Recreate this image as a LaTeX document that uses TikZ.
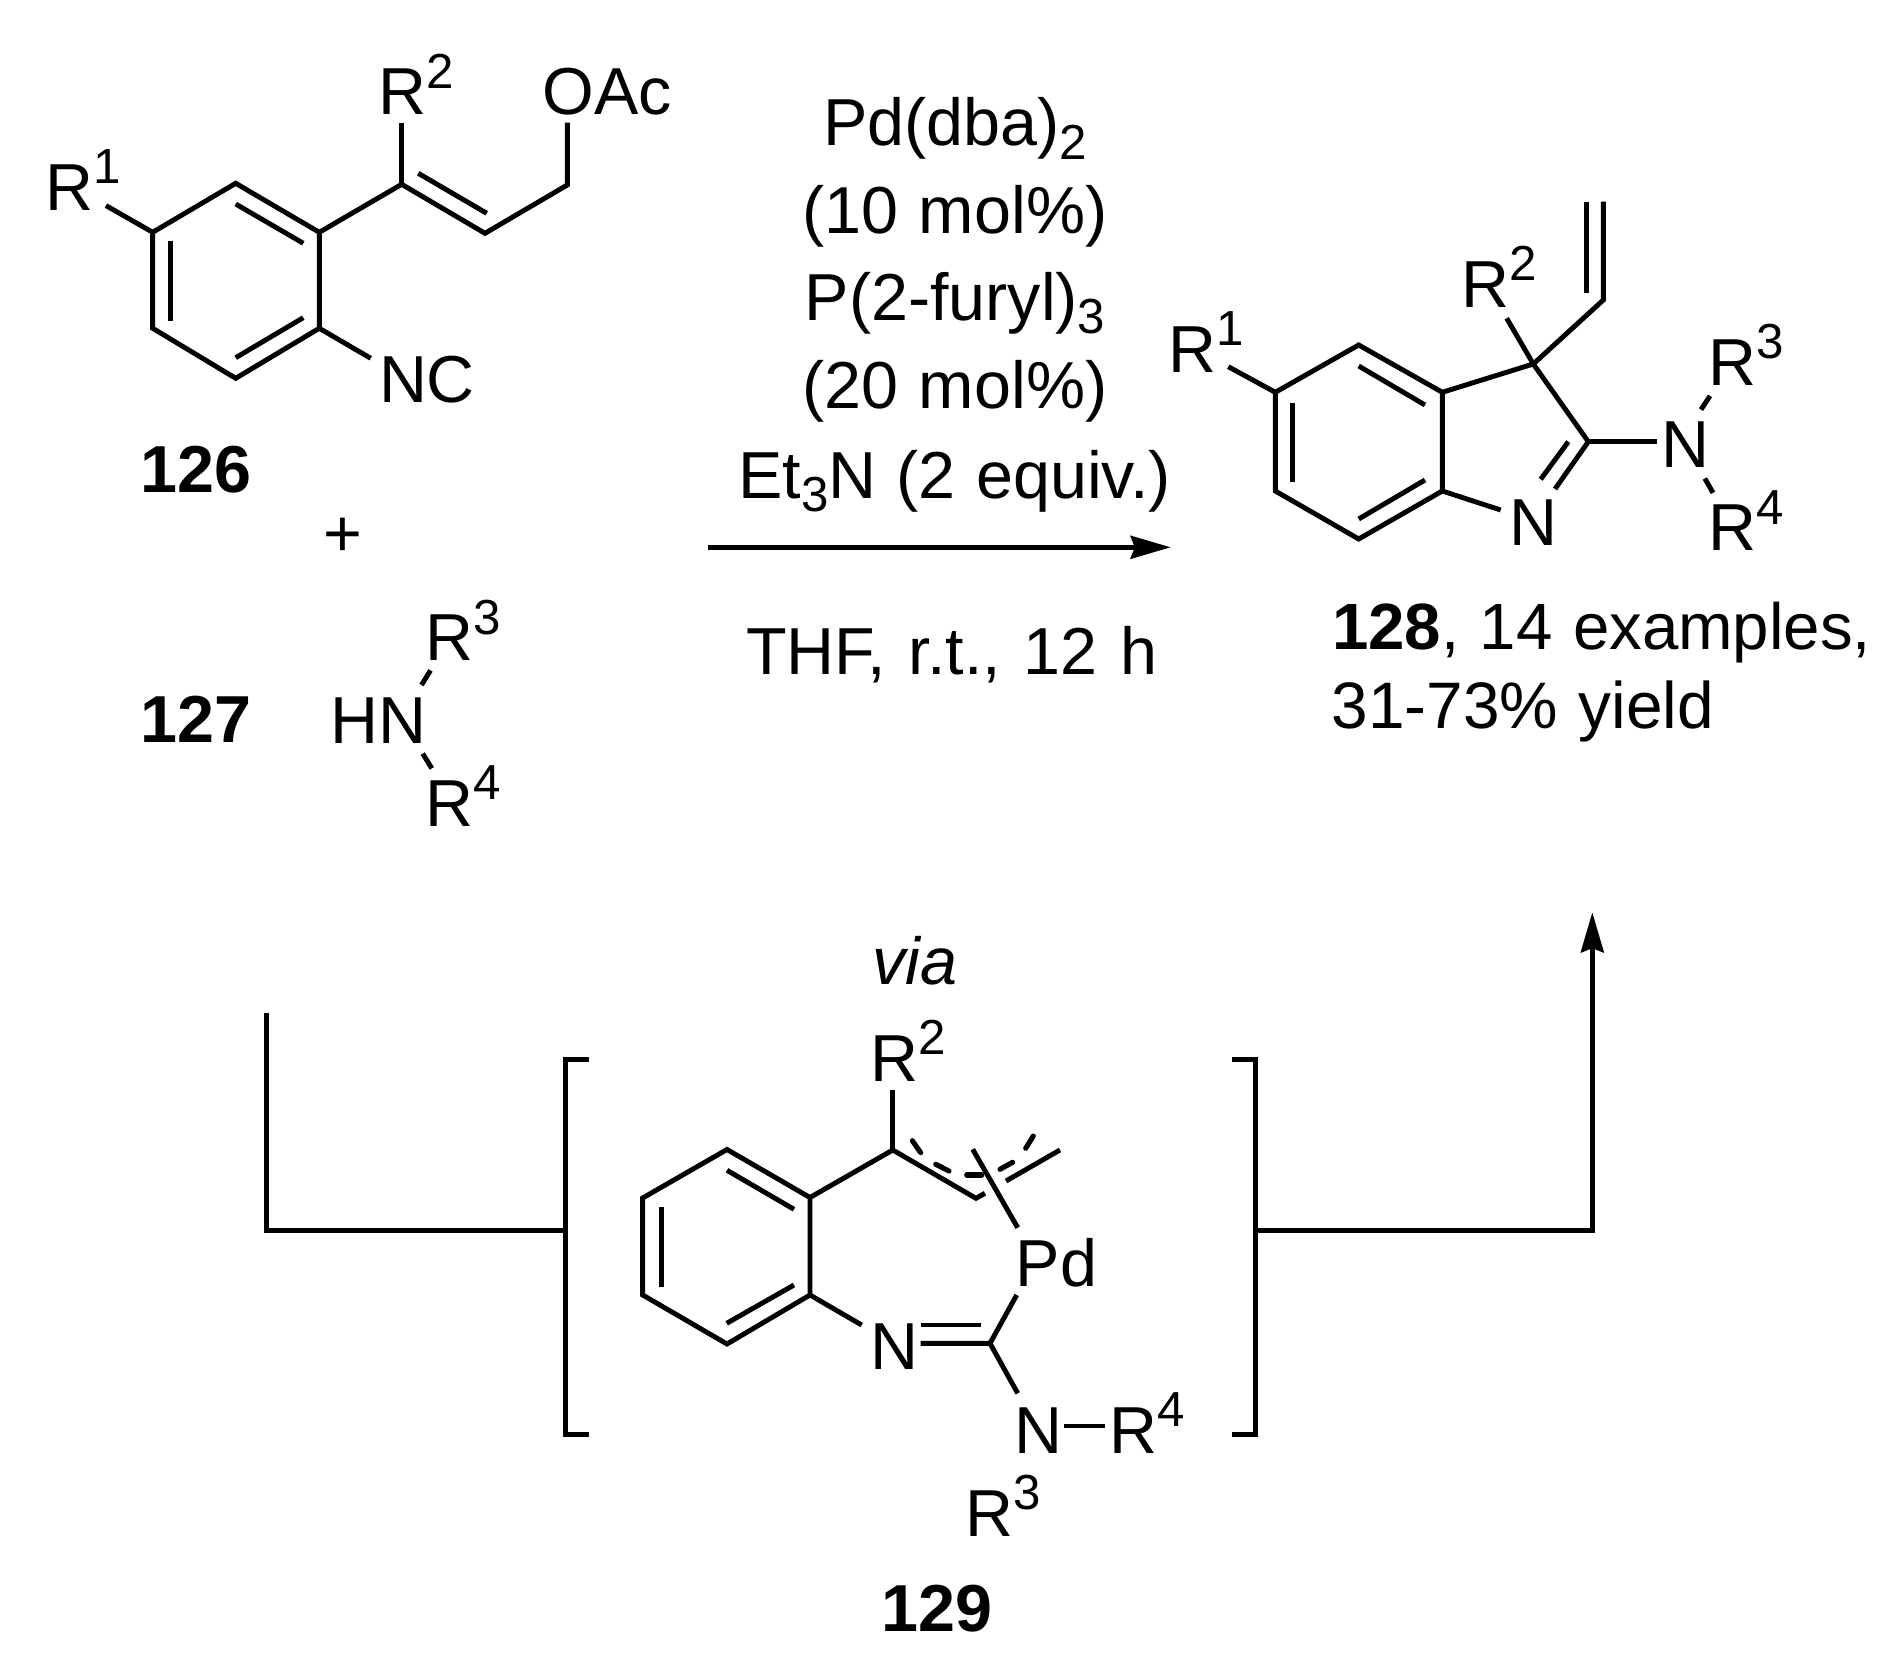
\documentclass[tikz,border=0pt]{standalone}
\usepackage{fontspec}
\setmainfont{Liberation Sans}
\usetikzlibrary{arrows.meta}
\newcommand{\topdigit}[1]{\raisebox{7.6pt}{\fontsize{14}{14}\selectfont #1}}
\newcommand{\lowdigit}[1]{\raisebox{-3.8pt}{\fontsize{14}{14}\selectfont #1}}
\newcommand{\lblfont}{\fontsize{18.9}{22}\selectfont\spaceskip=5.8pt\relax}
\tikzset{
  bond/.style={line width=1.4pt,line join=miter},
  dashbit/.style={line width=1.45pt,line cap=round},
  lbl/.style={inner sep=0pt,anchor=base west,font=\lblfont},
  midlbl/.style={inner sep=0pt,anchor=base,font=\lblfont},
  arr/.style={line width=1.4pt,-{Stealth[length=11.4pt,width=6.5pt,inset=1.2pt]}},
}

\begin{document}
\begin{tikzpicture}[x=0.01cm,y=-0.01cm]
  \useasboundingbox (0,0) rectangle (1902,1655);

  % 126
  \coordinate (a1) at (235.7,183.3);
  \coordinate (a2) at (319.3,232.3);
  \coordinate (a3) at (319.3,328.3);
  \coordinate (a4) at (235.7,378.3);
  \coordinate (a5) at (152.7,328.3);
  \coordinate (a6) at (152.7,232.3);
  \coordinate (ac1) at (401.7,184.3);
  \coordinate (ac2) at (485,233.3);
  \coordinate (ac3) at (567.3,185);
  \coordinate (ar1) at (106,205.6);
  \coordinate (ar2) at (401.7,122.7);
  \coordinate (aoac) at (567.3,122.7);
  \coordinate (anc) at (370.7,358.3);
  \draw [bond] (a1) -- (a2) -- (a3) -- (a4) -- (a5) -- (a6) -- cycle;
  \draw [bond] (235.7,204) -- (303.3,243.3);
  \draw [bond] (170.7,241) -- (170.7,320.7);
  \draw [bond] (235.7,357.7) -- (303.3,317.7);
  \draw [bond] (ar1) -- (a6);
  \draw [bond] (a2) -- (ac1) -- (ac2) -- (ac3) -- (aoac);
  \draw [bond] (ac1) -- (ar2);
  \draw [bond] (418.3,173.3) -- (486.7,213.3);
  \draw [bond] (a3) -- (anc);
  \node [lbl] (ra1) at (45,210.4) {R\topdigit{1}};
  \node [lbl] (ra2) at (378,115) {R\topdigit{2}};
  \node [lbl] (oac) at (541.7,115) {OAc};
  \node [lbl] (nc) at (378.3,402.3) {NC};
  \node [midlbl] (n126) at (195.6,492.7) {\textbf{126}};
  \node [midlbl] (plus) at (342.6,557) {+};

  % 127
  \coordinate (b1) at (421.5,685);
  \coordinate (b2) at (430.5,670.4);
  \coordinate (b3) at (422.7,753.6);
  \coordinate (b4) at (431.8,768.4);
  \draw [bond] (b1) -- (b2);
  \draw [bond] (b3) -- (b4);
  \node [midlbl] (n127) at (195.6,743) {\textbf{127}};
  \node [lbl] (hn) at (330,743.5) {HN};
  \node [lbl] (rb3) at (425,660.8) {R\topdigit{3}};
  \node [lbl] (rb4) at (425,826.7) {R\topdigit{4}};

  % conditions
  \node [midlbl] (cond1) at (955,145.7) {Pd(dba)\lowdigit{2}};
  \node [midlbl] (cond2) at (955,233.2) {(10 mol\%)};
  \node [midlbl] (cond3) at (955,320.6) {P(2-furyl)\lowdigit{3}};
  \node [midlbl] (cond4) at (955,409) {(20 mol\%)};
  \node [midlbl] (cond5) at (954.6,498.3) {Et\lowdigit{3}N (2 equiv.)};
  \node [midlbl] (cond6) at (951.6,674.3) {\spaceskip=6.4pt\relax THF, r.t., 12 h};
  \coordinate (arra) at (708,547.3);
  \coordinate (arrb) at (1170.7,547.3);
  \draw [arr] (arra) -- (arrb);

  % 128
  \coordinate (c1) at (1358.7,345);
  \coordinate (c2) at (1442.3,392.3);
  \coordinate (c3) at (1442.3,491);
  \coordinate (c4) at (1358.7,539);
  \coordinate (c5) at (1275.3,491);
  \coordinate (c6) at (1275.3,392.3);
  \coordinate (cq) at (1533.3,364);
  \coordinate (cn) at (1588.3,441.7);
  \coordinate (cv1) at (1603.3,300);
  \coordinate (cv2) at (1603.3,201.7);
  \coordinate (cr1) at (1228.3,366.7);
  \coordinate (cr2) at (1506.7,318.3);
  \coordinate (cnb) at (1500.7,510);
  \coordinate (cnd) at (1555,489);
  \coordinate (cna) at (1657.3,441.7);
  \draw [bond] (c1) -- (c2) -- (c3) -- (c4) -- (c5) -- (c6) -- cycle;
  \draw [bond] (1358.7,366) -- (1425,405);
  \draw [bond] (1292.3,403.3) -- (1292.3,481.7);
  \draw [bond] (1358.7,519) -- (1425,480);
  \draw [bond] (cr1) -- (c6);
  \draw [bond] (c2) -- (cq) -- (cn) -- (cnd);
  \draw [bond] (c3) -- (cnb);
  \draw [bond] (1568.3,441.7) -- (1540.7,479.3);
  \draw [bond] (cq) -- (cr2);
  \draw [bond] (cq) -- (cv1) -- (cv2);
  \draw [bond] (1586.7,293.3) -- (1586.7,201.7);
  \draw [bond] (cn) -- (cna);
  \draw [bond] (1701,409.6) -- (1710,395.9);
  \draw [bond] (1704.8,478.5) -- (1713,492.8);
  \node [lbl] (rc1) at (1167.3,372.3) {R\topdigit{1}};
  \node [lbl] (rc2) at (1460.6,307.3) {R\topdigit{2}};
  \node [lbl] (nc1) at (1509,546) {N};
  \node [lbl] (nc2) at (1661,468) {N};
  \node [lbl] (rc3) at (1708,385.3) {R\topdigit{3}};
  \node [lbl] (rc4) at (1708,551) {R\topdigit{4}};
  \node [lbl] (n128) at (1331.5,649.3) {\fontsize{18.6}{22}\selectfont\textbf{128}, 14 examples,};
  \node [lbl] (yield) at (1331,728.3) {\fontsize{18.7}{22}\selectfont 31-73\% yield};

  % via, brackets
  \node [midlbl] (via) at (915,984.3) {\itshape via};
  \coordinate (lefttop) at (266.7,1013.3);
  \coordinate (brl) at (565.7,1230.3);
  \coordinate (brr) at (1255.7,1230.3);
  \coordinate (arrtip) at (1592.3,912.3);
  \draw [bond] (589,1059.3) -- (565.7,1059.3) -- (565.7,1434.4) -- (589,1434.4);
  \draw [bond] (1232.3,1059.3) -- (1255.7,1059.3) -- (1255.7,1434.4) -- (1232.3,1434.4);
  \draw [bond] (lefttop) |- (brl);
  \draw [arr] (brr) -| (arrtip);

  % 129
  \coordinate (d1) at (727,1149.5);
  \coordinate (d2) at (810,1197.5);
  \coordinate (d3) at (810,1295);
  \coordinate (d4) at (727,1344);
  \coordinate (d5) at (642.7,1295);
  \coordinate (d6) at (642.7,1198);
  \coordinate (dc1) at (892.8,1150);
  \coordinate (dc2) at (976,1198.3);
  \coordinate (dc3) at (985,1193.3);
  \coordinate (dc4) at (1006,1181);
  \coordinate (dc5) at (1060,1150);
  \coordinate (dr2) at (892.8,1090);
  \coordinate (dpa) at (972.7,1149.3);
  \coordinate (dpb) at (1017.7,1227.7);
  \coordinate (dpc) at (1016.7,1295);
  \coordinate (dcn) at (990,1343.3);
  \coordinate (dna) at (920.7,1343.3);
  \coordinate (dnb) at (861.7,1325);
  \coordinate (dnc) at (1017.7,1393.3);
  \coordinate (dra) at (1064.3,1426);
  \coordinate (drb) at (1105,1426);
  \draw [bond] (d1) -- (d2) -- (d3) -- (d4) -- (d5) -- (d6) -- cycle;
  \draw [bond] (727,1170.3) -- (794,1209.3);
  \draw [bond] (661.7,1207.3) -- (661.7,1286.7);
  \draw [bond] (726.7,1323.3) -- (794,1285);
  \draw [bond] (d2) -- (dc1) -- (dc2) -- (dc3);
  \draw [bond] (dc1) -- (dr2);
  \draw [bond] (dc4) -- (dc5);
  \draw [bond] (dpa) -- (dpb);
  \foreach \xa/\ya/\xb/\yb in {912.3/1140.7/920.7/1152.7, 935.7/1164.3/949/1171,
      966.7/1175/981.7/1175, 1000/1169.3/1012.7/1162.3, 1025.7/1148.3/1033.3/1136}
    \draw [dashbit] (\xa,\ya) -- (\xb,\yb);
  \draw [bond] (dpc) -- (dcn) -- (dna);
  \draw [bond] (920.7,1325) -- (980.7,1325);
  \draw [bond] (d3) -- (dnb);
  \draw [bond] (dcn) -- (dnc);
  \draw [bond] (dra) -- (drb);
  \node [lbl] (rd2) at (870,1081.7) {R\topdigit{2}};
  \node [lbl] (pd) at (1015,1286.7) {Pd};
  \node [lbl] (nd1) at (869.3,1369.3) {N};
  \node [lbl] (nd2) at (1013.3,1453.3) {N};
  \node [lbl] (rd4) at (1108.6,1453.3) {R\topdigit{4}};
  \node [lbl] (rd3) at (964.6,1536.7) {R\topdigit{3}};
  \node [midlbl] (n129) at (936.7,1631) {\textbf{129}};
\end{tikzpicture}
\end{document}
